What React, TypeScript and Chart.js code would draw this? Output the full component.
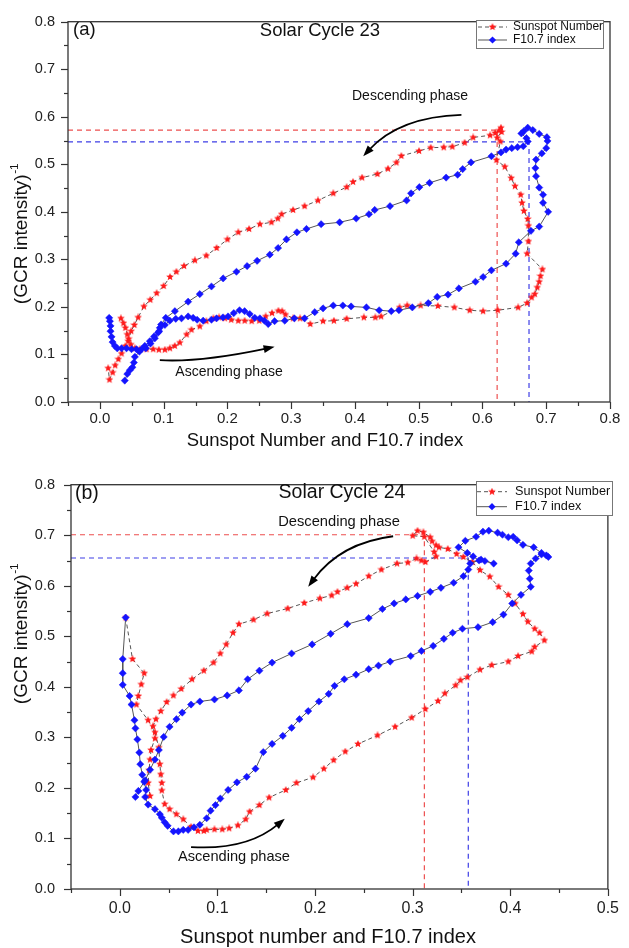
import React, { useEffect, useRef } from 'react';
import { Chart, registerables } from 'chart.js';
Chart.register(...registerables);

type P = [number, number];

// ---------- DATA ----------
const seriesLabels = ['Sunspot Number', 'F10.7 index'];
const cycle23Title = 'Solar Cycle 23';
const cycle24Title = 'Solar Cycle 24';
const yTickLabels = ['0.0', '0.1', '0.2', '0.3', '0.4', '0.5', '0.6', '0.7', '0.8'];

const cycle23Sunspot: P[] = [
  [0.033,0.176],[0.037,0.166],[0.040,0.156],[0.043,0.142],[0.0444,0.128],[0.0486,0.121],[0.0549,0.113],[0.0627,0.111],[0.0731,0.111],[0.0836,0.111],[0.0925,0.110],[0.1019,0.110],[0.1097,0.113],[0.1175,0.118],[0.1254,0.125],[0.136,0.142],[0.1436,0.152],[0.1567,0.159],[0.167,0.170],[0.178,0.176],[0.187,0.178],[0.196,0.176],[0.206,0.173],[0.217,0.171],[0.227,0.171],[0.238,0.170],[0.250,0.171],[0.260,0.180],[0.270,0.187],[0.280,0.192],[0.286,0.191],[0.291,0.184],[0.303,0.176],[0.314,0.176],[0.330,0.164],[0.350,0.170],[0.367,0.171],[0.387,0.175],[0.414,0.178],[0.432,0.178],[0.441,0.180],[0.470,0.199],[0.482,0.203],[0.503,0.203],[0.530,0.202],[0.556,0.199],[0.580,0.193],[0.601,0.191],[0.624,0.193],[0.656,0.199],[0.670,0.208],[0.677,0.220],[0.682,0.227],[0.686,0.241],[0.689,0.253],[0.691,0.265],[0.694,0.279],[0.670,0.312],[0.672,0.338],[0.672,0.371],[0.671,0.385],[0.665,0.402],[0.662,0.419],[0.660,0.436],[0.651,0.454],[0.645,0.471],[0.635,0.495],[0.622,0.509],[0.628,0.548],[0.623,0.556],[0.630,0.568],[0.629,0.577],[0.626,0.571],[0.620,0.566],[0.612,0.561],[0.5854,0.5565],[0.5721,0.5454],[0.5528,0.5371],[0.5392,0.5357],[0.5188,0.535],[0.5005,0.5281],[0.4728,0.5177],[0.465,0.5038],[0.4519,0.4907],[0.4352,0.4796],[0.4112,0.472],[0.397,0.463],[0.387,0.452],[0.366,0.439],[0.342,0.424],[0.321,0.412],[0.303,0.404],[0.285,0.395],[0.279,0.386],[0.269,0.378],[0.251,0.374],[0.234,0.364],[0.217,0.357],[0.200,0.342],[0.183,0.324],[0.167,0.308],[0.149,0.298],[0.132,0.286],[0.120,0.274],[0.110,0.263],[0.100,0.244],[0.089,0.229],[0.079,0.215],[0.069,0.201],[0.060,0.178],[0.054,0.162],[0.049,0.149],[0.045,0.133],[0.040,0.118],[0.034,0.102],[0.029,0.090],[0.024,0.077],[0.020,0.062],[0.015,0.047],[0.013,0.071]
];

const cycle23F107: P[] = [
  [0.0146,0.177],[0.0157,0.170],[0.0167,0.160],[0.0167,0.149],[0.0183,0.137],[0.0199,0.126],[0.0235,0.118],[0.0272,0.113],[0.034,0.113],[0.0418,0.113],[0.0496,0.111],[0.0574,0.111],[0.0653,0.111],[0.0721,0.113],[0.0794,0.123],[0.0862,0.134],[0.0914,0.146],[0.094,0.156],[0.1019,0.162],[0.1097,0.171],[0.119,0.175],[0.128,0.176],[0.1384,0.180],[0.1462,0.177],[0.1525,0.173],[0.162,0.171],[0.175,0.173],[0.183,0.176],[0.193,0.178],[0.201,0.180],[0.210,0.187],[0.219,0.193],[0.227,0.191],[0.235,0.185],[0.243,0.177],[0.251,0.176],[0.258,0.171],[0.264,0.164],[0.274,0.170],[0.290,0.171],[0.305,0.176],[0.321,0.176],[0.337,0.189],[0.350,0.197],[0.366,0.203],[0.381,0.203],[0.394,0.201],[0.418,0.199],[0.438,0.193],[0.457,0.191],[0.469,0.193],[0.490,0.199],[0.515,0.208],[0.529,0.221],[0.546,0.226],[0.563,0.239],[0.589,0.253],[0.601,0.263],[0.614,0.277],[0.637,0.291],[0.652,0.312],[0.657,0.336],[0.676,0.360],[0.689,0.369],[0.703,0.400],[0.695,0.419],[0.695,0.436],[0.689,0.451],[0.684,0.475],[0.683,0.492],[0.684,0.510],[0.693,0.523],[0.700,0.534],[0.702,0.549],[0.701,0.557],[0.689,0.564],[0.679,0.572],[0.671,0.577],[0.665,0.570],[0.661,0.565],[0.669,0.555],[0.671,0.548],[0.664,0.538],[0.655,0.536],[0.646,0.534],[0.637,0.531],[0.629,0.525],[0.614,0.517],[0.582,0.504],[0.569,0.490],[0.561,0.478],[0.543,0.472],[0.517,0.461],[0.501,0.452],[0.488,0.439],[0.481,0.424],[0.455,0.412],[0.431,0.404],[0.422,0.395],[0.402,0.386],[0.376,0.378],[0.347,0.374],[0.324,0.364],[0.309,0.357],[0.2926,0.342],[0.2795,0.324],[0.2665,0.310],[0.2466,0.297],[0.2309,0.286],[0.2142,0.274],[0.1933,0.260],[0.175,0.243],[0.1567,0.227],[0.1384,0.211],[0.1176,0.191],[0.1034,0.177],[0.096,0.163],[0.0929,0.149],[0.085,0.138],[0.0784,0.128],[0.0705,0.118],[0.062,0.106],[0.0549,0.095],[0.0533,0.083],[0.051,0.073],[0.047,0.067],[0.043,0.059],[0.039,0.045]
];

const cycle24Sunspot: P[] = [
  [0.006,0.537],[0.013,0.455],[0.025,0.427],[0.022,0.405],[0.019,0.382],[0.017,0.365],[0.029,0.334],[0.036,0.310],[0.040,0.280],[0.041,0.247],[0.042,0.227],[0.043,0.210],[0.043,0.195],[0.046,0.168],[0.051,0.158],[0.058,0.148],[0.065,0.138],[0.073,0.123],[0.080,0.115],[0.086,0.115],[0.089,0.117],[0.097,0.118],[0.105,0.118],[0.112,0.120],[0.121,0.126],[0.129,0.138],[0.133,0.153],[0.143,0.166],[0.153,0.181],[0.170,0.196],[0.181,0.210],[0.198,0.221],[0.209,0.238],[0.219,0.255],[0.231,0.272],[0.244,0.287],[0.264,0.304],[0.282,0.321],[0.299,0.339],[0.313,0.356],[0.326,0.372],[0.333,0.387],[0.344,0.403],[0.349,0.413],[0.356,0.419],[0.369,0.434],[0.381,0.443],[0.398,0.450],[0.408,0.461],[0.422,0.470],[0.425,0.479],[0.435,0.492],[0.430,0.507],[0.425,0.515],[0.418,0.529],[0.413,0.544],[0.405,0.565],[0.398,0.582],[0.388,0.598],[0.379,0.618],[0.369,0.631],[0.361,0.647],[0.352,0.657],[0.345,0.663],[0.336,0.673],[0.327,0.676],[0.324,0.680],[0.320,0.688],[0.318,0.696],[0.311,0.706],[0.305,0.709],[0.300,0.699],[0.312,0.697],[0.322,0.667],[0.324,0.658],[0.313,0.647],[0.309,0.650],[0.304,0.654],[0.295,0.646],[0.284,0.644],[0.268,0.632],[0.255,0.619],[0.242,0.604],[0.233,0.596],[0.223,0.588],[0.217,0.581],[0.205,0.575],[0.189,0.566],[0.172,0.555],[0.151,0.545],[0.137,0.533],[0.122,0.524],[0.116,0.507],[0.109,0.484],[0.103,0.466],[0.096,0.448],[0.086,0.432],[0.074,0.415],[0.063,0.396],[0.055,0.383],[0.048,0.370],[0.042,0.352],[0.037,0.336],[0.034,0.322],[0.036,0.298],[0.032,0.275],[0.031,0.256],[0.030,0.235],[0.029,0.210],[0.031,0.184]
];

const cycle24F107: P[] = [
  [0.006,0.537],[0.003,0.455],[0.003,0.427],[0.003,0.404],[0.010,0.382],[0.012,0.365],[0.015,0.334],[0.016,0.318],[0.018,0.296],[0.020,0.270],[0.021,0.247],[0.023,0.226],[0.025,0.212],[0.027,0.196],[0.026,0.182],[0.029,0.167],[0.036,0.158],[0.041,0.148],[0.043,0.141],[0.046,0.132],[0.049,0.125],[0.055,0.114],[0.060,0.114],[0.065,0.117],[0.070,0.117],[0.076,0.122],[0.082,0.127],[0.089,0.140],[0.093,0.155],[0.098,0.166],[0.103,0.179],[0.111,0.196],[0.120,0.211],[0.130,0.222],[0.139,0.238],[0.147,0.271],[0.156,0.287],[0.167,0.303],[0.176,0.319],[0.184,0.336],[0.193,0.352],[0.204,0.371],[0.214,0.386],[0.220,0.402],[0.230,0.415],[0.242,0.424],[0.255,0.435],[0.265,0.442],[0.277,0.450],[0.298,0.461],[0.309,0.471],[0.321,0.481],[0.332,0.495],[0.341,0.507],[0.351,0.515],[0.367,0.518],[0.382,0.528],[0.393,0.543],[0.402,0.565],[0.411,0.582],[0.421,0.598],[0.420,0.614],[0.419,0.630],[0.421,0.644],[0.426,0.654],[0.432,0.662],[0.439,0.657],[0.437,0.660],[0.432,0.665],[0.424,0.676],[0.413,0.681],[0.407,0.690],[0.403,0.697],[0.398,0.696],[0.392,0.701],[0.387,0.705],[0.378,0.709],[0.372,0.707],[0.365,0.697],[0.354,0.689],[0.347,0.676],[0.356,0.665],[0.362,0.658],[0.368,0.650],[0.374,0.649],[0.383,0.644],[0.370,0.652],[0.359,0.644],[0.357,0.632],[0.352,0.619],[0.342,0.606],[0.329,0.596],[0.318,0.588],[0.305,0.580],[0.293,0.573],[0.281,0.565],[0.269,0.554],[0.255,0.536],[0.233,0.524],[0.216,0.505],[0.197,0.484],[0.176,0.466],[0.156,0.448],[0.143,0.432],[0.131,0.415],[0.122,0.393],[0.110,0.383],[0.097,0.375],[0.082,0.371],[0.073,0.365],[0.064,0.349],[0.058,0.336],[0.051,0.321],[0.045,0.301],[0.040,0.275],[0.036,0.256],[0.031,0.236],[0.026,0.215],[0.019,0.194],[0.016,0.182]
];

// peak reference values [x, y] for the dashed guide lines
const cycle23SunspotPeak: P = [0.623, 0.572];
const cycle23F107Peak: P = [0.673, 0.547];
const cycle24SunspotPeak: P = [0.312, 0.701];
const cycle24F107Peak: P = [0.357, 0.655];

// ---------- STYLE / LAYOUT ----------
const FONT = '"Liberation Sans", Arial, Helvetica, sans-serif';
const RED = '#ff1a1a';
const BLUE = '#1414ff';
const LINE_GREY = '#555555';

function makeStar(size: number, color: string): HTMLCanvasElement {
  const c = document.createElement('canvas');
  c.width = size; c.height = size;
  const ctx = c.getContext('2d')!;
  const cx = size / 2, cy = size / 2, R = size / 2, r = R * 0.45;
  ctx.beginPath();
  for (let i = 0; i < 10; i++) {
    const rad = i % 2 === 0 ? R : r;
    const a = -Math.PI / 2 + (i * Math.PI) / 5;
    const px = cx + rad * Math.cos(a), py = cy + rad * Math.sin(a);
    if (i === 0) ctx.moveTo(px, py); else ctx.lineTo(px, py);
  }
  ctx.closePath();
  ctx.fillStyle = color;
  ctx.fill();
  return c;
}

type Arrow = { from: P; ctrl: P; to: P };
type Panel = {
  canvasH: number; padTop: number; padRight: number; yAxisW: number; xAxisH: number;
  xMax: number; yTickPad: number; xTickPad: number; xTickSize: number; yTickSize: number;
  tag: string; tagX: number; tagY: number; title: string; titleX: number; titleY: number; titleSize: number;
  xTitle: string; xTitleX: number; xTitleY: number; xTitleSize: number;
  yTitleX: number; yTitleY: number; yTitleSize: number;
  desc: { x: number; y: number; size: number }; asc: { x: number; y: number; size: number };
  descArrow: Arrow; ascArrow: Arrow;
  legend: { x1: number; x2: number; y1: number; y2: number; row1: number; row2: number; lx1: number; lx2: number; tx: number; size: number };
  sunspot: P[]; f107: P[]; sunspotPeak: P; f107Peak: P;
};

const panels: Panel[] = [
  {
    canvasH: 460, padTop: 17, padRight: 19, yAxisW: 68, xAxisH: 58, xMax: 0.8,
    yTickPad: 13, xTickPad: 8, xTickSize: 15, yTickSize: 14.5,
    tag: '(a)', tagX: 73, tagY: 30, title: cycle23Title, titleX: 320, titleY: 31, titleSize: 18.5,
    xTitle: 'Sunspot Number and F10.7 index', xTitleX: 325, xTitleY: 441, xTitleSize: 18.5,
    yTitleX: 22, yTitleY: 234, yTitleSize: 19,
    desc: { x: 410, y: 96, size: 14 }, asc: { x: 229, y: 372, size: 14 },
    descArrow: { from: [0.567, 0.604], ctrl: [0.470, 0.600], to: [0.413, 0.517] },
    ascArrow: { from: [0.094, 0.088], ctrl: [0.157, 0.083], to: [0.274, 0.116] },
    legend: { x1: 476, x2: 603, y1: 20, y2: 48, row1: 27, row2: 40, lx1: 478, lx2: 507, tx: 513, size: 12 },
    sunspot: cycle23Sunspot, f107: cycle23F107, sunspotPeak: cycle23SunspotPeak, f107Peak: cycle23F107Peak,
  },
  {
    canvasH: 488, padTop: 20, padRight: 13, yAxisW: 71, xAxisH: 59, xMax: 0.5,
    yTickPad: 16, xTickPad: 10, xTickSize: 16, yTickSize: 14.5,
    tag: '(b)', tagX: 75, tagY: 34, title: cycle24Title, titleX: 342, titleY: 33, titleSize: 19.5,
    xTitle: 'Sunspot number and F10.7 index', xTitleX: 328, xTitleY: 477, xTitleSize: 20,
    yTitleX: 22, yTitleY: 174, yTitleSize: 19,
    desc: { x: 339, y: 62, size: 14.7 }, asc: { x: 234, y: 397, size: 14.6 },
    descArrow: { from: [0.280, 0.698], ctrl: [0.226, 0.685], to: [0.193, 0.598] },
    ascArrow: { from: [0.073, 0.083], ctrl: [0.130, 0.076], to: [0.169, 0.139] },
    legend: { x1: 476, x2: 612, y1: 21, y2: 55, row1: 31.7, row2: 46.7, lx1: 477, lx2: 507, tx: 515, size: 12.7 },
    sunspot: cycle24Sunspot, f107: cycle24F107, sunspotPeak: cycle24SunspotPeak, f107Peak: cycle24F107Peak,
  },
];

function tickLabel(v: number | string): string {
  const n = Number(v);
  const r = Math.round(n * 10);
  if (Math.abs(n * 10 - r) > 1e-6 || r < 0) return '';
  const s = (r / 10).toFixed(1);
  return yTickLabels.includes(s) ? s : '';
}

function drawArrow(ctx: CanvasRenderingContext2D, chart: any, a: Arrow) {
  const xs = chart.scales.x, ys = chart.scales.y;
  const p0 = [xs.getPixelForValue(a.from[0]), ys.getPixelForValue(a.from[1])];
  const c = [xs.getPixelForValue(a.ctrl[0]), ys.getPixelForValue(a.ctrl[1])];
  const p2 = [xs.getPixelForValue(a.to[0]), ys.getPixelForValue(a.to[1])];
  const ang = Math.atan2(p2[1] - c[1], p2[0] - c[0]);
  const L = 11, W = 4;
  const bx = p2[0] - Math.cos(ang) * L * 0.8, by = p2[1] - Math.sin(ang) * L * 0.8;
  ctx.save();
  ctx.strokeStyle = '#000';
  ctx.lineWidth = 1.8;
  ctx.beginPath();
  ctx.moveTo(p0[0], p0[1]);
  ctx.quadraticCurveTo(c[0], c[1], bx, by);
  ctx.stroke();
  ctx.fillStyle = '#000';
  ctx.beginPath();
  ctx.moveTo(p2[0], p2[1]);
  const b2x = p2[0] - Math.cos(ang) * L, b2y = p2[1] - Math.sin(ang) * L;
  ctx.lineTo(b2x + Math.sin(ang) * W, b2y - Math.cos(ang) * W);
  ctx.lineTo(b2x - Math.sin(ang) * W, b2y + Math.cos(ang) * W);
  ctx.closePath();
  ctx.fill();
  ctx.restore();
}

function makeDecorPlugin(p: Panel, star: HTMLCanvasElement) {
  return {
    id: 'decor',
    afterDraw(chart: any) {
      const ctx: CanvasRenderingContext2D = chart.ctx;
      const area = chart.chartArea;
      ctx.save();
      // frame
      ctx.strokeStyle = '#333';
      ctx.lineWidth = 1.3;
      ctx.strokeRect(area.left, area.top, area.right - area.left, area.bottom - area.top);
      // ticks
      ctx.lineWidth = 1.2;
      const xs = chart.scales.x, ys = chart.scales.y;
      xs.ticks.forEach((t: any) => {
        const px = Math.round(xs.getPixelForValue(t.value)) + 0.5;
        const len = tickLabel(t.value) ? 7 : 4;
        ctx.beginPath(); ctx.moveTo(px, area.bottom); ctx.lineTo(px, area.bottom + len); ctx.stroke();
      });
      ys.ticks.forEach((t: any) => {
        const py = Math.round(ys.getPixelForValue(t.value)) + 0.5;
        const len = tickLabel(t.value) ? 7 : 4;
        ctx.beginPath(); ctx.moveTo(area.left, py); ctx.lineTo(area.left - len, py); ctx.stroke();
      });
      // texts
      ctx.fillStyle = '#111';
      ctx.textBaseline = 'middle';
      ctx.font = `${p.titleSize}px ${FONT}`;
      ctx.textAlign = 'left';
      ctx.fillText(p.tag, p.tagX, p.tagY);
      ctx.textAlign = 'center';
      ctx.fillText(p.title, p.titleX, p.titleY);
      ctx.font = `${p.desc.size}px ${FONT}`;
      ctx.fillText('Descending phase', p.desc.x, p.desc.y);
      ctx.font = `${p.asc.size}px ${FONT}`;
      ctx.fillText('Ascending phase', p.asc.x, p.asc.y);
      ctx.font = `${p.xTitleSize}px ${FONT}`;
      ctx.fillText(p.xTitle, p.xTitleX, p.xTitleY);
      // y title with superscript
      ctx.save();
      ctx.translate(p.yTitleX, p.yTitleY);
      ctx.rotate(-Math.PI / 2);
      const main = '(GCR intensity)';
      const sup = '-1';
      ctx.font = `${p.yTitleSize}px ${FONT}`;
      const w1 = ctx.measureText(main).width;
      ctx.font = `${p.yTitleSize * 0.62}px ${FONT}`;
      const w2 = ctx.measureText(sup).width;
      const start = -(w1 + w2) / 2;
      ctx.textAlign = 'left';
      ctx.font = `${p.yTitleSize}px ${FONT}`;
      ctx.fillText(main, start, 0);
      ctx.font = `${p.yTitleSize * 0.62}px ${FONT}`;
      ctx.fillText(sup, start + w1 + 0.5, -p.yTitleSize * 0.4);
      ctx.restore();
      // arrows
      drawArrow(ctx, chart, p.descArrow);
      drawArrow(ctx, chart, p.ascArrow);
      // legend
      const L = p.legend;
      ctx.fillStyle = '#fff';
      ctx.fillRect(L.x1, L.y1, L.x2 - L.x1, L.y2 - L.y1);
      ctx.strokeStyle = '#777';
      ctx.lineWidth = 1;
      ctx.strokeRect(L.x1 + 0.5, L.y1 + 0.5, L.x2 - L.x1, L.y2 - L.y1);
      ctx.strokeStyle = LINE_GREY;
      ctx.setLineDash([4, 3]);
      ctx.beginPath(); ctx.moveTo(L.lx1, L.row1); ctx.lineTo(L.lx2, L.row1); ctx.stroke();
      ctx.setLineDash([]);
      ctx.beginPath(); ctx.moveTo(L.lx1, L.row2); ctx.lineTo(L.lx2, L.row2); ctx.stroke();
      const mx = (L.lx1 + L.lx2) / 2;
      ctx.drawImage(star, mx - star.width / 2, L.row1 - star.height / 2);
      ctx.fillStyle = BLUE;
      ctx.beginPath();
      ctx.moveTo(mx, L.row2 - 3.6); ctx.lineTo(mx + 3.6, L.row2); ctx.lineTo(mx, L.row2 + 3.6); ctx.lineTo(mx - 3.6, L.row2);
      ctx.closePath(); ctx.fill();
      ctx.fillStyle = '#111';
      ctx.font = `${L.size}px ${FONT}`;
      ctx.textAlign = 'left';
      ctx.fillText(seriesLabels[0], L.tx, L.row1);
      ctx.fillText(seriesLabels[1], L.tx, L.row2);
      ctx.restore();
    },
  };
}

function PanelChart({ p }: { p: Panel }) {
  const ref = useRef<HTMLCanvasElement>(null);
  useEffect(() => {
    if (!ref.current) return;
    const star = makeStar(8, RED);
    const toXY = (arr: P[]) => arr.map(([x, y]) => ({ x, y }));
    const chart = new Chart(ref.current, {
      type: 'scatter',
      data: {
        datasets: [
          {
            label: 'sunspot-peak',
            data: toXY([[-0.05, p.sunspotPeak[1]], [p.sunspotPeak[0], p.sunspotPeak[1]], [p.sunspotPeak[0], 0]]),
            showLine: true, borderColor: 'rgba(235,60,60,0.9)', borderWidth: 1.2, borderDash: [5, 4],
            pointRadius: 0, order: 3,
          },
          {
            label: 'f107-peak',
            data: toXY([[-0.05, p.f107Peak[1]], [p.f107Peak[0], p.f107Peak[1]], [p.f107Peak[0], 0]]),
            showLine: true, borderColor: 'rgba(40,40,225,0.9)', borderWidth: 1.2, borderDash: [5, 4],
            pointRadius: 0, order: 3,
          },
          {
            label: seriesLabels[0],
            data: toXY(p.sunspot),
            showLine: true, borderColor: LINE_GREY, borderWidth: 1, borderDash: [4, 3],
            pointStyle: star as any, pointRadius: 4, order: 2,
          },
          {
            label: seriesLabels[1],
            data: toXY(p.f107),
            showLine: true, borderColor: LINE_GREY, borderWidth: 1,
            pointStyle: 'rectRot', pointRadius: 3.6, pointBackgroundColor: BLUE, pointBorderColor: BLUE,
            pointBorderWidth: 0.5, order: 1,
          },
        ],
      },
      options: {
        animation: false,
        responsive: false,
        maintainAspectRatio: false,
        layout: { padding: { top: p.padTop, right: p.padRight, left: 0, bottom: 0 } },
        plugins: { legend: { display: false }, tooltip: { enabled: false } },
        scales: {
          x: {
            type: 'linear', min: -0.05, max: p.xMax,
            grid: { display: false, drawTicks: false, tickLength: 0 }, border: { display: false },
            ticks: {
              stepSize: 0.05, autoSkip: false, maxRotation: 0, padding: p.xTickPad, color: '#222',
              font: { family: FONT, size: p.xTickSize }, callback: (v: any) => tickLabel(v),
            },
            afterFit: (s: any) => { s.height = p.xAxisH; },
          },
          y: {
            type: 'linear', min: 0, max: 0.8,
            grid: { display: false, drawTicks: false, tickLength: 0 }, border: { display: false },
            ticks: {
              stepSize: 0.05, autoSkip: false, padding: p.yTickPad, color: '#222',
              font: { family: FONT, size: p.yTickSize }, callback: (v: any) => tickLabel(v),
            },
            afterFit: (s: any) => { s.width = p.yAxisW; },
          },
        },
      },
      plugins: [makeDecorPlugin(p, star)],
    } as any);
    return () => chart.destroy();
  }, [p]);
  return <canvas ref={ref} width={629} height={p.canvasH} style={{ display: 'block', width: 629, height: p.canvasH }} />;
}

export default function App() {
  return (
    <div style={{ position: 'absolute', left: 0, top: 0, width: 629, height: 948, background: '#fff' }}>
      {panels.map((p, i) => <PanelChart key={i} p={p} />)}
    </div>
  );
}
